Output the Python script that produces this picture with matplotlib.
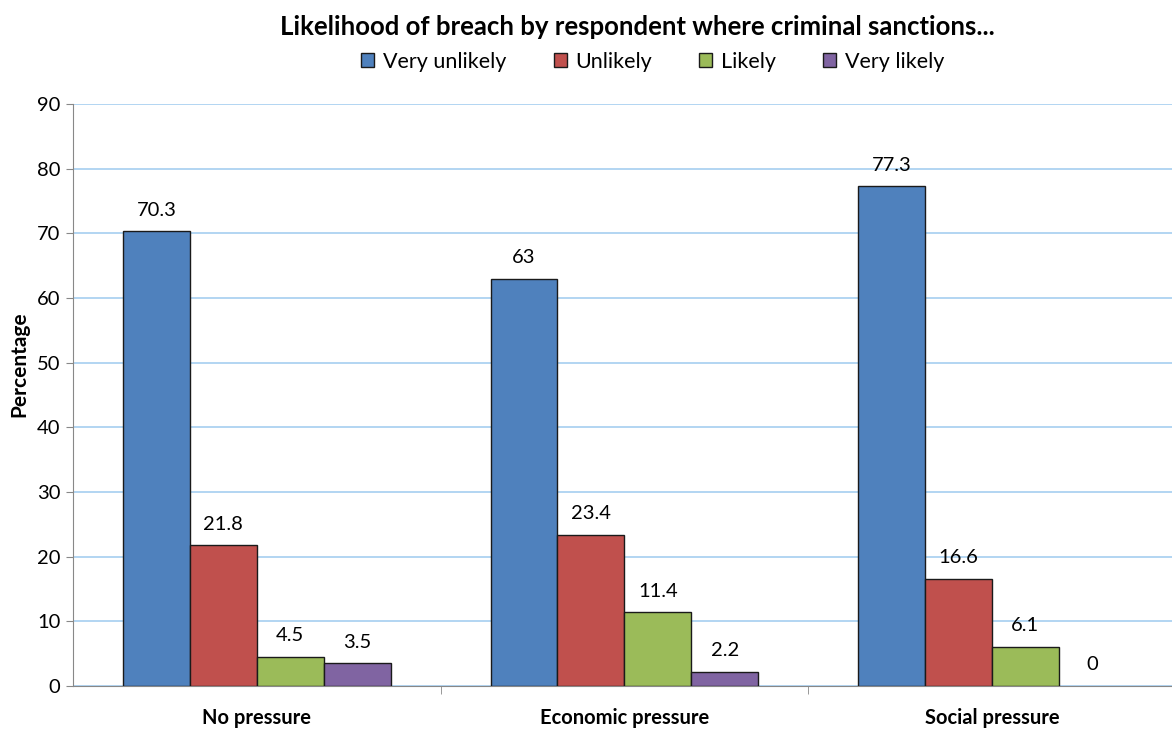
import numpy as np
import matplotlib.pyplot as plt

plt.rcParams['font.family'] = ['Lato', 'DejaVu Sans']

categories = ['No pressure', 'Economic pressure', 'Social pressure']
series = ['Very unlikely', 'Unlikely', 'Likely', 'Very likely']
very_unlikely = [70.3, 63, 77.3]
unlikely = [21.8, 23.4, 16.6]
likely = [4.5, 11.4, 6.1]
very_likely = [3.5, 2.2, 0]

values = [very_unlikely, unlikely, likely, very_likely]
colors = ['#4F81BD', '#C0504D', '#9BBB59', '#8064A2']

fig = plt.figure(figsize=(11.72, 7.37), dpi=100)
# plot area runs off the right edge of the figure
ax = fig.add_axes([0.0623, 0.0692, 0.9377, 0.7898])

x = np.arange(len(categories))
width = 0.182
offsets = (np.arange(4) - 1.5) * width

for i, (name, vals, col) in enumerate(zip(series, values, colors)):
    lw = [1.0 if v > 0 else 0 for v in vals]
    bars = ax.bar(x + offsets[i], vals, width, color=col, edgecolor='#1a1a1a',
                  linewidth=lw, label=name, zorder=3)
    for b, v in zip(bars, vals):
        cx = b.get_x() + b.get_width() / 2
        ax.annotate(f'{v:g}', (cx, v), xytext=(0, 9), textcoords='offset points',
                    ha='center', va='bottom', fontsize=14.5)

ax.set_ylim(0, 90)
ax.set_yticks(range(0, 91, 10))
ax.yaxis.grid(True, color='#A6CEF0', linewidth=1.2, zorder=0)
ax.set_axisbelow(True)

ax.set_xticks(x)
ax.set_xticklabels(categories, fontsize=14.5, fontweight='bold')
ax.tick_params(axis='x', length=0, pad=16)
ax.set_xticks([0.5, 1.5], minor=True)
ax.tick_params(axis='x', which='minor', length=6, color='#888888', direction='out')
ax.tick_params(axis='y', labelsize=14.5, length=5, color='#888888', pad=4)
ax.set_xlim(-0.5, 2.49)

for side in ['top', 'right']:
    ax.spines[side].set_visible(False)
for side in ['left', 'bottom']:
    ax.spines[side].set_color('#888888')

ax.set_ylabel('Percentage', fontsize=15, fontweight='bold')
ax.yaxis.set_label_coords(-0.04, 0.553)

fig.text(0.544, 0.963, 'Likelihood of breach by respondent where criminal sanctions...',
         ha='center', va='center', fontsize=18.5, fontweight='bold')
fig.legend(loc='center', bbox_to_anchor=(0.557, 0.916), ncol=4, frameon=False,
           fontsize=15.5, handlelength=0.6, handleheight=0.6, handletextpad=0.4,
           columnspacing=2.2)

fig.savefig('out.png', dpi=100)
